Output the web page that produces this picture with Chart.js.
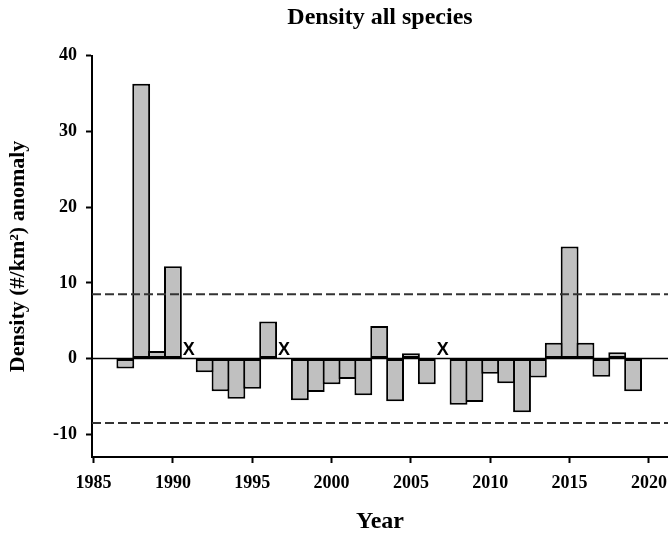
<!DOCTYPE html>
<html>
<head>
<meta charset="utf-8">
<script src="https://cdn.jsdelivr.net/npm/chart.js@4"></script>
<style>
  html, body { margin: 0; padding: 0; background: #fff; }
  canvas { display: block; }
</style>
</head>
<body>
<canvas id="c" width="668" height="537"></canvas>
<script>
// ---- data ----
const years = [1987, 1988, 1989, 1990, 1992, 1993, 1994, 1995, 1996, 1998, 1999, 2000, 2001, 2002, 2003, 2004, 2005, 2006, 2008, 2009, 2010, 2011, 2012, 2013, 2014, 2015, 2016, 2017, 2018, 2019];
const anomaly = [-1.3, 36.3, 1.0, 12.2, -1.8, -4.3, -5.3, -4.0, 4.9, -5.5, -4.4, -3.4, -2.7, -4.85, 4.3, -5.65, 0.7, -3.4, -6.1, -5.75, -2.0, -3.25, -7.1, -2.5, 2.1, 14.8, 2.1, -2.4, 0.85, -4.3];
const missingYears = [1991, 1997, 2007];
const thresholdUpper = 8.5;
const thresholdLower = -8.5;
const xTicks = [1985, 1990, 1995, 2000, 2005, 2010, 2015, 2020];
const yTicks = [-10, 0, 10, 20, 30, 40];
const xRange = [1984.9, 2021.2];
const yRange = [-13, 40];

const serif = 'Liberation Serif';

const missingMarkers = {
  id: 'missingMarkers',
  afterDatasetsDraw(chart) {
    const ctx = chart.ctx;
    const xs = chart.scales.x, ys = chart.scales.y;
    ctx.save();
    ctx.font = 'bold 18px "Liberation Sans"';
    ctx.fillStyle = '#000';
    ctx.textAlign = 'center';
    ctx.textBaseline = 'alphabetic';
    missingYears.forEach(yr => {
      ctx.fillText('X', xs.getPixelForValue(yr), ys.getPixelForValue(0) - 4);
    });
    ctx.restore();
  }
};

const hLine = (v) => [{ x: xRange[0], y: v }, { x: xRange[1], y: v }];

new Chart(document.getElementById('c'), {
  type: 'bar',
  data: {
    datasets: [
      {
        type: 'line',
        data: hLine(thresholdUpper),
        borderColor: '#333',
        borderWidth: 2,
        borderDash: [9, 4],
        pointRadius: 0,
        order: 0
      },
      {
        type: 'line',
        data: hLine(thresholdLower),
        borderColor: '#333',
        borderWidth: 2,
        borderDash: [9, 4],
        pointRadius: 0,
        order: 0
      },
      {
        type: 'bar',
        data: years.map((yr, i) => ({ x: yr, y: anomaly[i] })),
        backgroundColor: '#c0c0c0',
        borderColor: '#000',
        borderWidth: 2,
        borderSkipped: false,
        barPercentage: 1.125,
        categoryPercentage: 1,
        order: 1
      },
      {
        type: 'line',
        data: hLine(0),
        borderColor: '#000',
        borderWidth: 1.5,
        pointRadius: 0,
        order: 2
      }
    ]
  },
  options: {
    responsive: false,
    animation: false,
    devicePixelRatio: 1,
    layout: { padding: 0 },
    plugins: {
      legend: { display: false },
      tooltip: { enabled: false },
      title: {
        display: true,
        text: 'Density all species',
        fullSize: false,
        color: '#000',
        font: { family: serif, size: 24, weight: 'bold' },
        padding: { top: 3, bottom: 24 }
      }
    },
    scales: {
      x: {
        type: 'linear',
        min: xRange[0],
        max: xRange[1],
        offset: false,
        afterBuildTicks: s => { s.ticks = xTicks.map(v => ({ value: v })); },
        afterFit: s => { s.height = 80; s.paddingLeft = 0; s.paddingRight = 0; },
        grid: { display: true, drawOnChartArea: false, drawTicks: true, tickLength: 6, tickWidth: 2, tickColor: '#000', offset: false },
        border: { display: true, color: '#000', width: 2 },
        ticks: {
          color: '#000',
          font: { family: serif, size: 18, weight: 'bold' },
          padding: 10,
          maxRotation: 0,
          autoSkip: false,
          callback: v => String(v)
        },
        title: {
          display: true,
          text: 'Year',
          color: '#000',
          font: { family: serif, size: 24, weight: 'bold' },
          padding: { top: 0, bottom: 1 }
        }
      },
      y: {
        type: 'linear',
        min: yRange[0],
        max: yRange[1],
        afterBuildTicks: s => { s.ticks = yTicks.map(v => ({ value: v })); },
        afterFit: s => { s.width = 92; },
        grid: { display: true, drawOnChartArea: false, drawTicks: true, tickLength: 6, tickWidth: 2, tickColor: '#000' },
        border: { display: true, color: '#000', width: 2 },
        ticks: {
          color: '#000',
          font: { family: serif, size: 18, weight: 'bold' },
          padding: 9,
          callback: v => String(v)
        },
        title: {
          display: true,
          text: 'Density (#/km²) anomaly',
          color: '#000',
          font: { family: serif, size: 22, weight: 'bold' },
          padding: { top: 5, bottom: 0 }
        }
      }
    }
  },
  plugins: [missingMarkers]
});
</script>
</body>
</html>
